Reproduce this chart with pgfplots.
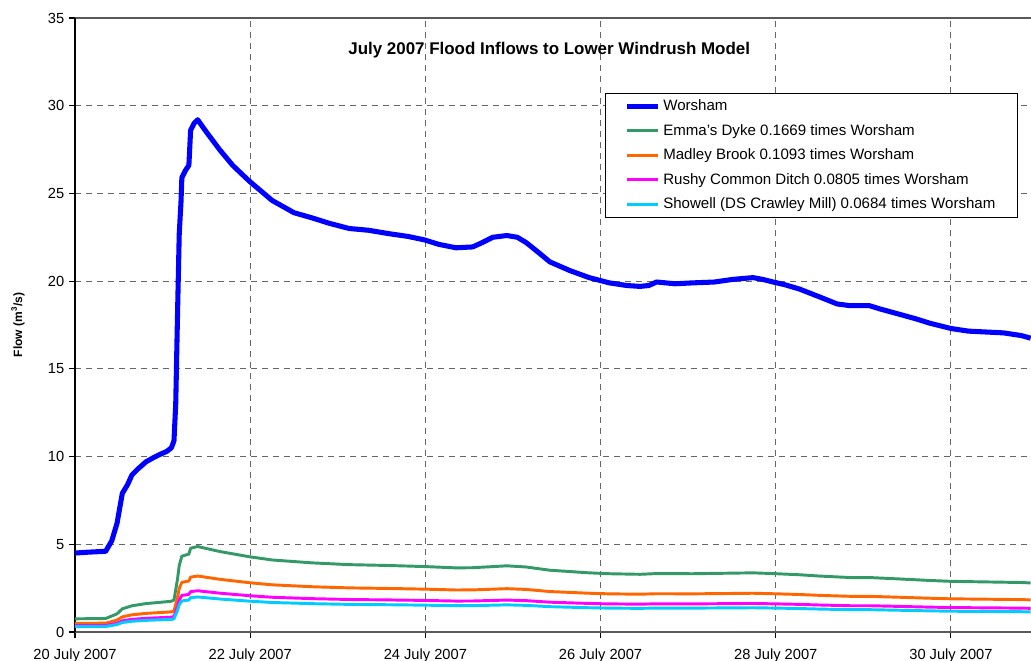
\documentclass[border=0pt]{standalone}
\usepackage{fontspec}
\setmainfont{Liberation Sans}
\usepackage{pgfplots}
\usepackage{pgfplotstable}
\pgfplotsset{compat=1.18}
\definecolor{wblue}{RGB}{0,0,255}
\definecolor{egreen}{RGB}{51,153,102}
\definecolor{morange}{RGB}{255,102,0}
\definecolor{rmag}{RGB}{255,0,255}
\definecolor{scyan}{RGB}{0,204,255}

\pgfplotstableread{
d w
0.00 4.50
0.15 4.55
0.35 4.60
0.42 5.2
0.48 6.2
0.54 7.9
0.60 8.4
0.65 8.95
0.72 9.3
0.81 9.7
0.90 9.95
0.96 10.1
1.05 10.3
1.10 10.5
1.13 10.9
1.15 13.0
1.17 18.0
1.19 22.7
1.21 24.5
1.22 25.9
1.26 26.3
1.30 26.6
1.32 28.6
1.36 29.0
1.40 29.2
1.50 28.5
1.65 27.5
1.80 26.6
1.99 25.7
2.25 24.6
2.50 23.9
2.71 23.6
2.90 23.3
3.13 23.0
3.35 22.9
3.59 22.7
3.80 22.55
3.99 22.35
4.15 22.1
4.35 21.9
4.54 21.95
4.65 22.2
4.77 22.5
4.93 22.6
5.05 22.5
5.15 22.2
5.30 21.6
5.42 21.1
5.65 20.6
5.87 20.2
6.10 19.9
6.30 19.75
6.45 19.7
6.55 19.75
6.64 19.95
6.85 19.85
7.05 19.9
7.30 19.95
7.51 20.1
7.74 20.2
7.85 20.1
7.97 19.95
8.10 19.8
8.27 19.55
8.50 19.1
8.70 18.7
8.85 18.6
9.07 18.6
9.20 18.4
9.42 18.1
9.60 17.85
9.76 17.6
10.00 17.3
10.20 17.15
10.40 17.1
10.60 17.05
10.80 16.9
10.91 16.75
}\worsham

\pgfplotstableread{
d e m r s
0.00 0.751 0.492 0.362 0.308
0.35 0.768 0.503 0.370 0.315
0.48 1.035 0.678 0.499 0.424
0.54 1.319 0.863 0.636 0.540
0.65 1.494 0.978 0.720 0.612
0.81 1.619 1.060 0.781 0.663
0.96 1.686 1.104 0.813 0.691
1.10 1.752 1.148 0.845 0.718
1.13 1.819 1.191 0.877 0.746
1.17 3.004 1.967 1.449 1.231
1.19 3.789 2.481 1.827 1.553
1.22 4.323 2.831 2.085 1.772
1.30 4.440 2.907 2.141 1.819
1.32 4.773 3.126 2.302 1.956
1.40 4.873 3.192 2.351 1.997
1.65 4.590 3.006 2.214 1.881
1.99 4.289 2.809 2.069 1.758
2.25 4.106 2.689 1.980 1.683
2.71 3.939 2.579 1.900 1.614
3.13 3.839 2.514 1.852 1.573
3.59 3.789 2.481 1.827 1.553
3.99 3.730 2.443 1.799 1.529
4.35 3.655 2.394 1.763 1.498
4.54 3.664 2.399 1.767 1.501
4.93 3.772 2.470 1.819 1.546
5.15 3.705 2.426 1.787 1.518
5.42 3.522 2.306 1.699 1.443
5.87 3.371 2.208 1.626 1.382
6.10 3.321 2.175 1.602 1.361
6.45 3.288 2.153 1.586 1.347
6.64 3.330 2.181 1.606 1.365
7.05 3.321 2.175 1.602 1.361
7.51 3.355 2.197 1.618 1.375
7.74 3.371 2.208 1.626 1.382
7.97 3.330 2.181 1.606 1.365
8.27 3.263 2.137 1.574 1.337
8.50 3.188 2.088 1.538 1.306
8.85 3.104 2.033 1.497 1.272
9.07 3.104 2.033 1.497 1.272
9.42 3.021 1.978 1.457 1.238
9.76 2.937 1.924 1.417 1.204
10.00 2.887 1.891 1.393 1.183
10.40 2.854 1.869 1.377 1.170
10.80 2.821 1.847 1.360 1.156
10.91 2.796 1.831 1.348 1.146
}\others

\begin{document}
\begin{tikzpicture}
\begin{axis}[
  scale only axis, width=717pt, height=460.5pt,
  xmin=0, xmax=10.914, ymin=0, ymax=35,
  axis x line=box, axis y line=left,
  axis line style={-, line width=0.9pt},
  x axis line style={draw=black!65},
  y axis line style={draw=black},
  every outer x axis line/.append style={-},
  every outer y axis line/.append style={-},
  xtick={0,2,4,6,8,10},
  xticklabels={20 July 2007,22 July 2007,24 July 2007,26 July 2007,28 July 2007,30 July 2007},
  ytick={0,5,...,35},
  xtick pos=left, ytick pos=left,
  tick align=outside, major tick length=4.5pt,
  tick style={black, line width=0.8pt},
  grid=major,
  major grid style={draw=black!60, line width=0.75pt, dash pattern=on 4.5pt off 3.75pt},
  /pgf/number format/assume math mode=true,
  tick label style={font=\fontsize{11}{13}\selectfont},
  xticklabel style={yshift=-5pt},
  every axis y label/.style={at={([xshift=-42.75pt]rel axis cs:0,0.5)}, rotate=90, anchor=center, font=\bfseries\fontsize{9}{11}\selectfont},
  ylabel={Flow (m$^{\mathbf{3}}$/s)},
  legend cell align=left,
  legend style={at={(rel axis cs:0.554,0.878)}, anchor=north west, draw=black, line width=0.75pt,
    font=\fontsize{11.3}{13}\selectfont, row sep=4.6pt, inner xsep=14.5pt, inner ysep=3pt},
  legend image code/.code={\draw[#1] (0cm,0cm) -- (0.82cm,0cm);},
]
\addplot[wblue, line width=3.8pt, line join=round] table[x=d,y=w]{\worsham};
\addlegendentry{Worsham}
\addplot[egreen, line width=2.2pt, line join=round] table[x=d,y=e]{\others};
\addlegendentry{Emma's Dyke 0.1669 times Worsham}
\addplot[morange, line width=2.2pt, line join=round] table[x=d,y=m]{\others};
\addlegendentry{Madley Brook 0.1093 times Worsham}
\addplot[rmag, line width=2.2pt, line join=round] table[x=d,y=r]{\others};
\addlegendentry{Rushy Common Ditch 0.0805 times Worsham}
\addplot[scyan, line width=2.2pt, line join=round] table[x=d,y=s]{\others};
\addlegendentry{Showell (DS Crawley Mill) 0.0684 times Worsham}
\node[font=\bfseries\fontsize{12.7}{15}\selectfont] at (rel axis cs:0.496,0.948) {July 2007 Flood Inflows to Lower Windrush Model};
\coordinate (sw) at (rel axis cs:0,0);
\coordinate (ne) at (rel axis cs:1,1);
\end{axis}
\pgfresetboundingbox
\path[use as bounding box] ([xshift=-56.25pt,yshift=-21.75pt]sw) rectangle ([yshift=13.5pt]ne);
\end{tikzpicture}
\end{document}
